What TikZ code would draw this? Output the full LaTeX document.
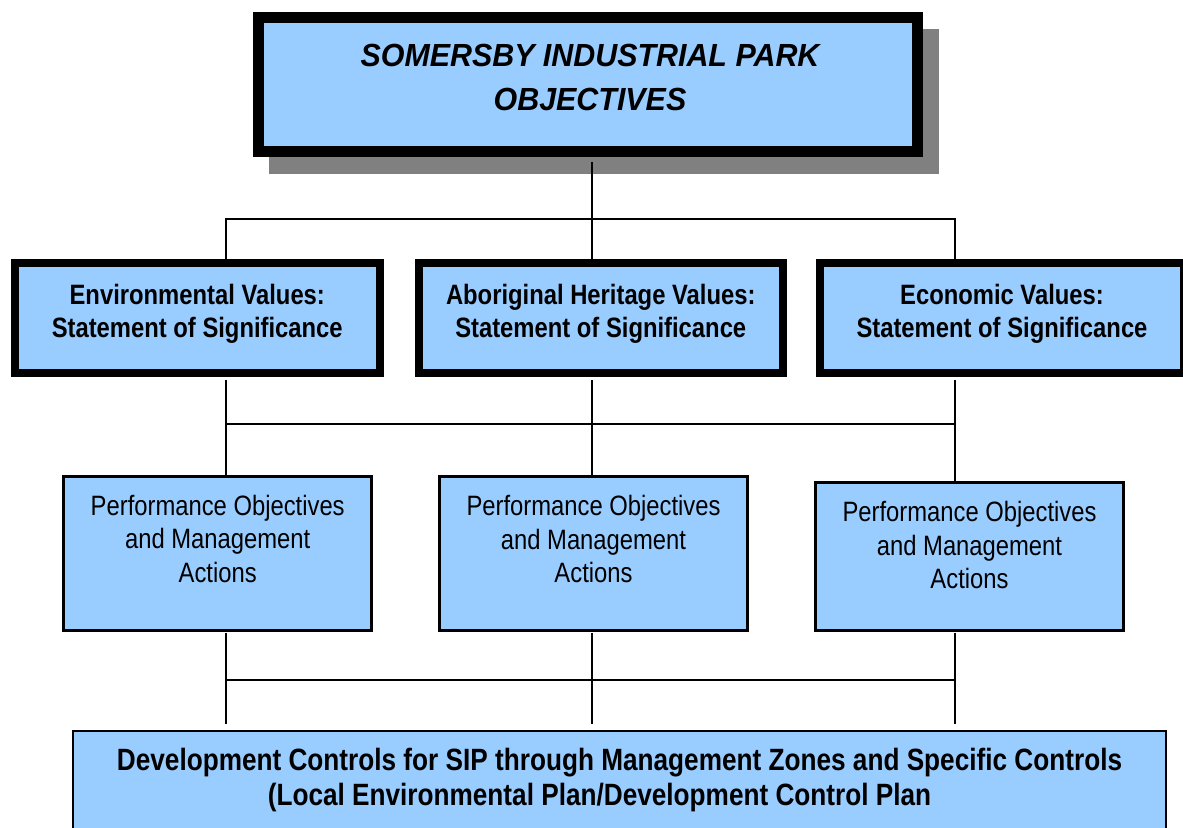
\documentclass[tikz,border=0pt]{standalone}
\usepackage{fontspec}
\setmainfont{Liberation Sans}
\newfontfamily\boxfont[FakeStretch=0.85]{Liberation Sans}
\newfontfamily\titlefont[FakeStretch=0.95]{Liberation Sans}
\usetikzlibrary{backgrounds}
\definecolor{boxblue}{HTML}{99CCFF}
\definecolor{shadowgrey}{HTML}{808080}

\begin{document}
\begin{tikzpicture}[x=0.5pt, y=-0.5pt,
  link/.style={black, line width=1pt},
  mainbox/.style={draw=black, fill=boxblue, line width=5.5pt, minimum width=329.5pt, minimum height=67pt, inner sep=0pt},
  valuebox/.style={draw=black, fill=boxblue, line width=4pt, minimum width=182.25pt, minimum height=55pt, inner sep=0pt},
  actionbox/.style={draw=black, fill=boxblue, line width=1.5pt, minimum width=154pt, inner sep=0pt},
  controlbox/.style={draw=black, fill=boxblue, line width=1pt, minimum width=546.5pt, minimum height=59.5pt, inner sep=0pt},
  boxtext/.style={anchor=north, align=center, inner sep=0pt}]
  \useasboundingbox (0,0) rectangle (1183,827);

  % columns and bus lines
  \coordinate (left) at (226,0);
  \coordinate (mid) at (591.5,0);
  \coordinate (right) at (955,0);
  \coordinate (topbus) at (0,219);
  \coordinate (midbus) at (0,424);
  \coordinate (lowbus) at (0,680);

  % objectives box with its shadow
  \node[mainbox] (park) at (588,84.5) {};
  \begin{scope}[on background layer]
    \fill[shadowgrey] ([shift={(16,17)}]park.south west) rectangle ([shift={(16,17)}]park.north east);
  \end{scope}
  \node[boxtext, font=\titlefont\bfseries\itshape\fontsize{16pt}{22pt}\selectfont] (parktext)
    at ([shift={(2,32)}]park.north) {SOMERSBY INDUSTRIAL PARK\\OBJECTIVES};

  % values
  \node[valuebox] (env) at (197.25,318) {};
  \node[valuebox] (abo) at (600.75,318) {};
  \node[valuebox] (eco) at (1002,318) {};
  \foreach \b/\t in {env/Environmental Values:, abo/Aboriginal Heritage Values:, eco/Economic Values:}
    \node[boxtext, font=\boxfont\bfseries\fontsize{14pt}{16.5pt}\selectfont] (\b text)
      at ([shift={(0,24.6)}]\b.north) {\t\\Statement of Significance};

  % actions
  \node[actionbox, minimum height=77pt] (envact) at (217.7,553) {};
  \node[actionbox, minimum height=77pt] (aboact) at (593.5,553.3) {};
  \node[actionbox, minimum height=74pt] (ecoact) at (969.5,556.3) {};
  \foreach \b in {envact,aboact,ecoact}
    \node[boxtext, font=\boxfont\fontsize{14pt}{16.75pt}\selectfont] (\b text)
      at ([shift={(0,20)}]\b.north) {Performance Objectives\\and Management\\Actions};

  % controls
  \node[controlbox] (control) at (619.5,790.5) {};
  \node[boxtext, font=\boxfont\bfseries\fontsize{15.4pt}{17.5pt}\selectfont] (controltext)
    at ([shift={(0,17.5)}]control.north) {Development Controls for SIP through Management Zones and Specific Controls\\(Local Environmental Plan/Development Control Plan\hspace*{20pt}};

  % connectors
  \draw[link, shorten <=2.5pt] (mid |- park.south) -- (mid |- topbus);
  \draw[link] (left |- env.north) -- (left |- topbus) -- (right |- topbus) -- (right |- eco.north);
  \draw[link] (mid |- topbus) -- (mid |- abo.north);

  \draw[link] (left |- midbus) -- (right |- midbus);
  \foreach \u/\l/\c in {env/envact/left, abo/aboact/mid, eco/ecoact/right}
    \draw[link, shorten <=1.5pt] (\c |- \u.south) -- (\c |- \l.north);

  \draw[link] (left |- lowbus) -- (right |- lowbus);
  \foreach \u/\c in {envact/left, aboact/mid, ecoact/right}
    \draw[link, shorten <=0.5pt, shorten >=3pt] (\c |- \u.south) -- (\c |- control.north);
\end{tikzpicture}
\end{document}
